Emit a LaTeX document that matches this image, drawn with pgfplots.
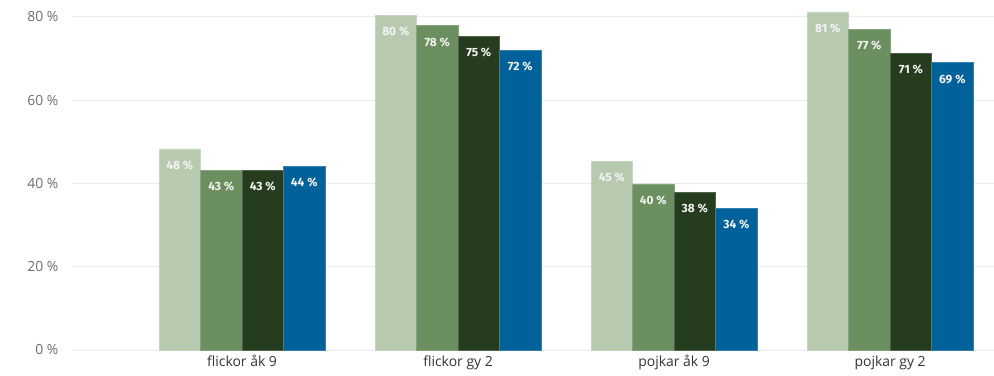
\documentclass[border=0pt]{standalone}
\usepackage{fontspec}
\setmainfont{Open Sans}
\newfontfamily\barfont{Fira Sans}
\usepackage{pgfplots}
\pgfplotsset{compat=1.18}
\definecolor{cA}{HTML}{B7CAB0}
\definecolor{cB}{HTML}{6B8F5E}
\definecolor{cC}{HTML}{263C1F}
\definecolor{cD}{HTML}{00619B}
\definecolor{gridc}{HTML}{EBEBEB}
\definecolor{tickc}{HTML}{6E6E6E}
\definecolor{xtickc}{HTML}{333333}
\definecolor{labc}{HTML}{F4F4F4}
\begin{document}
\begin{tikzpicture}[x=1bp,y=1bp]
\useasboundingbox (0,0) rectangle (994,375);
\begin{axis}[
  at={(72bp,25bp)}, anchor=south west,
  scale only axis, width=922bp, height=350bp,
  xmin=-0.787, xmax=3.481,
  ymin=0, ymax=84.08,
  ybar=0pt, bar width=41.5bp,
  xtick={0,1,2,3},
  xticklabels={flickor åk 9, flickor gy 2, pojkar åk 9, pojkar gy 2},
  ytick={0,20,40,60,80},
  yticklabel={\pgfmathprintnumber{\tick} \%},
  /pgf/number format/assume math mode=true,
  ymajorgrids, grid style={gridc, line width=1bp},
  axis line style={draw=none},
  major tick length=0pt,
  tick label style={font=\fontsize{14}{14}\selectfont},
  yticklabel style={tickc, xshift=-10bp},
  xticklabel style={xtickc, yshift=-2bp},
  clip=false,
  nodes near coords={\pgfmathprintnumber[fixed,precision=0]{\pgfplotspointmeta} \%},
  nodes near coords align={anchor=north},
  every node near coord/.append style={labc, font=\barfont\bfseries\fontsize{12}{12}\selectfont, yshift=-8bp, /pgf/number format/assume math mode=true},
]
\addplot[fill=cA, draw=cA!80!white, line width=0.8bp] coordinates {(0,48.3) (1,80.4) (2,45.3) (3,81.2)};
\addplot[fill=cB, draw=cB!80!white, line width=0.8bp] coordinates {(0,43.2) (1,77.9) (2,39.9) (3,77)};
\addplot[fill=cC, draw=cC!80!white, line width=0.8bp] coordinates {(0,43.2) (1,75.3) (2,37.9) (3,71.3)};
\addplot[fill=cD, draw=cD!80!white, line width=0.8bp] coordinates {(0,44.1) (1,72) (2,34.1) (3,69)};
\end{axis}
\end{tikzpicture}
\end{document}
